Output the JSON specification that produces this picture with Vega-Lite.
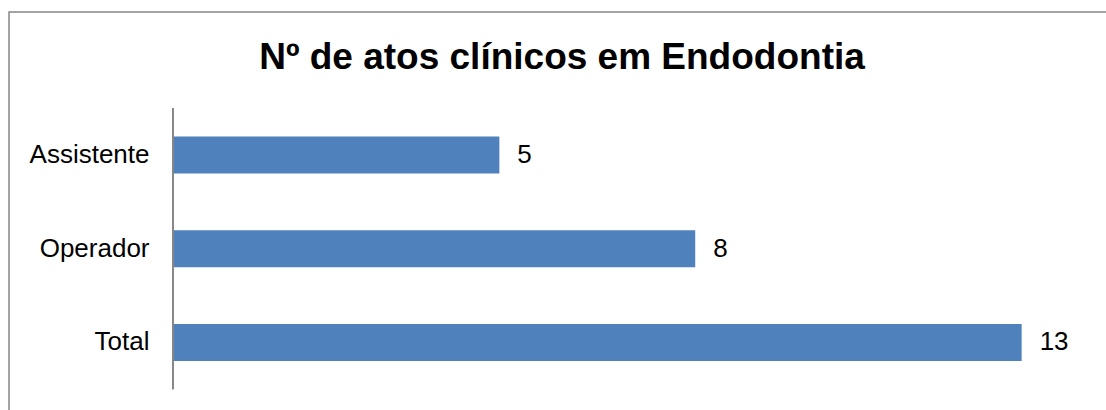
{
  "$schema": "https://vega.github.io/schema/vega-lite/v6.json",
  "width": 1106,
  "height": 410,
  "autosize": {"type": "none"},
  "padding": {"left": 9, "top": 12, "right": 0, "bottom": 0},
  "background": "white",
  "title": {
    "text": "Nº de atos clínicos em Endodontia",
    "anchor": "middle",
    "frame": "group",
    "orient": "top",
    "offset": -55,
    "dy": 39,
    "baseline": "alphabetic",
    "font": "Liberation Sans",
    "fontSize": 37,
    "fontWeight": "bold",
    "color": "black"
  },
  "config": {
    "view": {"stroke": "#878787", "strokeWidth": 1.5}
  },
  "data": {
    "values": [
      {"categoria": "Assistente", "valor": 5},
      {"categoria": "Operador", "valor": 8},
      {"categoria": "Total", "valor": 13}
    ]
  },
  "encoding": {
    "y": {
      "field": "categoria",
      "type": "nominal",
      "sort": ["Assistente", "Operador", "Total"],
      "scale": {"paddingInner": 0.605, "paddingOuter": 0.989, "align": 0.671},
      "axis": {
        "title": null,
        "orient": "left",
        "offset": -164,
        "domain": false,
        "ticks": false,
        "tickSize": 0,
        "grid": false,
        "labelPadding": 24,
        "labelFont": "Liberation Sans",
        "labelFontSize": 26,
        "labelColor": "black",
        "labelAlign": "right",
        "labelBaseline": "middle"
      }
    }
  },
  "layer": [
    {
      "mark": {"type": "bar", "color": "#4F81BD"},
      "encoding": {
        "x": {
          "field": "valor",
          "type": "quantitative",
          "scale": {"domain": [-2.511, 14.43], "nice": false, "zero": false},
          "axis": null
        },
        "x2": {"datum": 0}
      }
    },
    {
      "mark": {
        "type": "text",
        "align": "left",
        "baseline": "middle",
        "dx": 18,
        "font": "Liberation Sans",
        "fontSize": 26,
        "color": "black"
      },
      "encoding": {
        "x": {"field": "valor", "type": "quantitative"},
        "text": {"field": "valor", "type": "quantitative"}
      }
    },
    {
      "mark": {
        "type": "rule",
        "color": "#868686",
        "strokeWidth": 1.5,
        "yOffset": -46.9,
        "y2Offset": 46.9
      },
      "encoding": {
        "x": {"datum": 0, "type": "quantitative"},
        "y": {"datum": "Assistente", "type": "nominal"},
        "y2": {"datum": "Total"}
      }
    }
  ]
}
